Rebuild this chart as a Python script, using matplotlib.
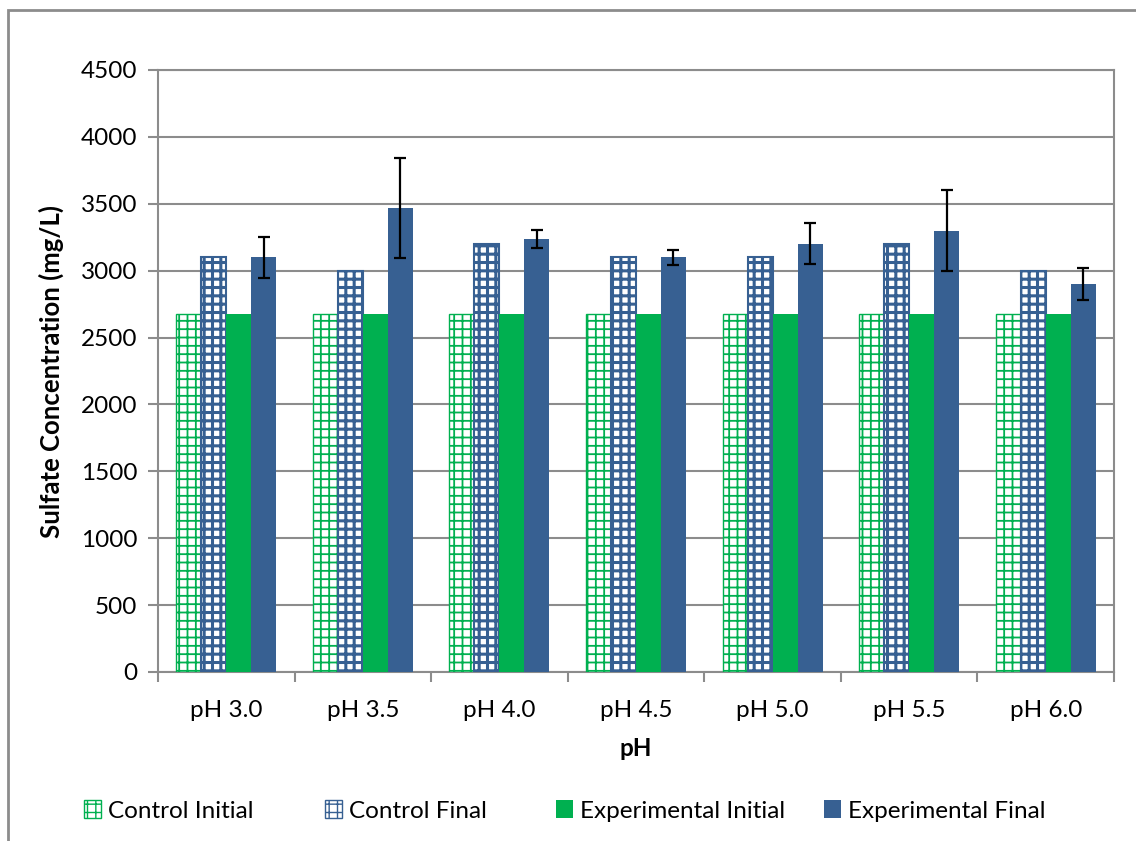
import numpy as np
import matplotlib
matplotlib.use('Agg')
import matplotlib.pyplot as plt
from matplotlib.patches import Rectangle, Patch

plt.rcParams['font.family'] = ['Lato', 'DejaVu Sans']

# Data
categories = ['pH 3.0', 'pH 3.5', 'pH 4.0', 'pH 4.5', 'pH 5.0', 'pH 5.5', 'pH 6.0']
control_initial = [2675, 2675, 2675, 2675, 2675, 2675, 2675]
control_final = [3100, 3000, 3200, 3100, 3100, 3200, 3000]
exp_initial = [2675, 2675, 2675, 2675, 2675, 2675, 2675]
exp_final = [3100, 3467, 3235, 3100, 3200, 3300, 2900]
exp_final_err = [155, 375, 67, 58, 153, 304, 118]
series_names = ['Control Initial', 'Control Final', 'Experimental Initial', 'Experimental Final']

green = '#00B050'
blue = '#376092'
grey = '#8C8C8C'
fs = 17.5

fig = plt.figure(figsize=(11.36, 8.41), dpi=100)
ax = fig.add_axes([158/1136, 1 - 672/841, (1114-158)/1136, (672-70)/841])

x = np.arange(len(categories))
w = 0.183

# Control initial: green grid on white
with plt.rc_context({'hatch.linewidth': 1.3, 'hatch.color': green}):
    ax.bar(x - 1.5*w, control_initial, w, facecolor='white', edgecolor=green,
           hatch='++', linewidth=1.0, zorder=3)
# Control final: blue grid on white, heavier lines
with plt.rc_context({'hatch.linewidth': 2.2, 'hatch.color': '#4470A8'}):
    ax.bar(x - 0.5*w, control_final, w, facecolor='white', edgecolor=blue,
           hatch='++', linewidth=1.5, zorder=3)
ax.bar(x + 0.5*w, exp_initial, w, color=green, zorder=3)
ax.bar(x + 1.5*w, exp_final, w, color=blue, zorder=3,
       yerr=exp_final_err, error_kw=dict(ecolor='black', elinewidth=1.6,
                                         capsize=4.5, capthick=1.6, zorder=4))

ax.set_xlim(-0.5, len(categories) - 0.5)
ax.set_ylim(0, 4500)
ax.set_yticks(np.arange(0, 4501, 500))
ax.yaxis.grid(True, color=grey, linewidth=1.5, zorder=0)
ax.set_axisbelow(True)

ax.set_xticks(x)
ax.set_xticklabels(categories)
ax.set_xticks(np.arange(-0.5, len(categories)), minor=True)
ax.tick_params(axis='x', which='major', length=0, pad=20, labelsize=fs)
ax.tick_params(axis='x', which='minor', length=7, width=1.5, color=grey)
ax.tick_params(axis='y', length=7, width=1.5, color=grey, labelsize=fs, pad=8)

for s in ax.spines.values():
    s.set_color(grey)
    s.set_linewidth(1.5)

ax.set_xlabel('pH', fontsize=fs, fontweight='bold', labelpad=12)
ax.set_ylabel('Sulfate Concentration (mg/L)', fontsize=18.5, fontweight='bold', labelpad=12)

# Legend entries spread like the original
handles = []
with plt.rc_context({'hatch.linewidth': 1.3, 'hatch.color': green}):
    handles.append(Patch(facecolor='white', edgecolor=green, hatch='++', label=series_names[0]))
with plt.rc_context({'hatch.linewidth': 2.0, 'hatch.color': '#4470A8'}):
    handles.append(Patch(facecolor='white', edgecolor=blue, hatch='++', label=series_names[1]))
handles.append(Patch(facecolor=green, label=series_names[2]))
handles.append(Patch(facecolor=blue, label=series_names[3]))

legend_x = [84, 325, 556, 824]
for h, lx in zip(handles, legend_x):
    fig.legend(handles=[h], loc='center left', bbox_to_anchor=(lx/1136, 1 - 811/841),
               frameon=False, fontsize=fs, handlelength=0.7, handleheight=0.7,
               handletextpad=0.3, borderpad=0, borderaxespad=0)

# Outer chart border (only left and top visible in the crop)
fig.patches.append(Rectangle((8/1136, -0.1), 1.2, 1.1 - 10/841,
                             transform=fig.transFigure, fill=False,
                             edgecolor=grey, linewidth=2))

fig.savefig('out.png', dpi=100)
